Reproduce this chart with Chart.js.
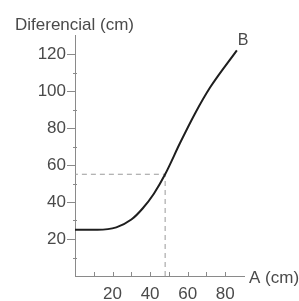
<!DOCTYPE html>
<html><head><meta charset="utf-8">
<script src="https://cdn.jsdelivr.net/npm/chart.js@4/dist/chart.umd.min.js"></script>
<style>html,body{margin:0;padding:0;background:#fff}#wrap{width:299px;height:301px;position:relative}</style>
</head><body><div id="wrap"><canvas id="c" width="299" height="301"></canvas></div>
<script>
const curveA = [0, 12, 22, 30, 36, 42, 48, 56, 64, 72, 86.2];
const curveDif = [25, 25, 26.3, 30.5, 36.5, 44.5, 55, 72, 88, 102, 122];
const markA = 48;
const markDif = 55;
const yTickLabels = [20, 40, 60, 80, 100, 120];
const xTickLabels = [20, 40, 60, 80];
const yTitle = 'Diferencial (cm)';
const xTitle = 'A (cm)';
const endLabel = 'B';

const TXT = '#4a4a4a';
const AX = '#8a8a8a';
const narrow = "'Liberation Sans Narrow','Arial Narrow','Liberation Sans',Arial,sans-serif";
const regular = "'Liberation Sans',Arial,sans-serif";

const deco = {
  id: 'deco',
  afterDatasetsDraw(chart) {
    const ctx = chart.ctx;
    const xs = chart.scales.x, ys = chart.scales.y;
    const x0 = xs.getPixelForValue(0), y0 = ys.getPixelForValue(0);
    ctx.save();
    ctx.strokeStyle = AX; ctx.lineWidth = 1;
    ys.ticks.forEach(t => {
      const v = t.value;
      if (v <= 0 || v % 10 !== 0 || v > 120) return;
      const py = Math.round(ys.getPixelForValue(v)) + 0.5;
      ctx.beginPath();
      if (v % 20 === 0) { ctx.moveTo(x0 - 8, py); ctx.lineTo(x0, py); }
      else { ctx.moveTo(x0 - 2, py); ctx.lineTo(x0 + 2, py); }
      ctx.stroke();
    });
    xs.ticks.forEach(t => {
      const v = t.value;
      if (v <= 0 || v % 10 !== 0 || v > 80) return;
      const px = Math.round(xs.getPixelForValue(v)) + 0.5;
      ctx.beginPath(); ctx.moveTo(px, y0 - 4); ctx.lineTo(px, y0 + 1); ctx.stroke();
    });
    ctx.fillStyle = TXT;
    ctx.font = '17px ' + regular;
    ctx.textBaseline = 'alphabetic';
    ctx.textAlign = 'left';
    ctx.fillText(yTitle, 15, 30);
    ctx.fillText(xTitle, xs.right + 5, 283);
    const meta = chart.getDatasetMeta(0);
    const last = meta.data[meta.data.length - 1];
    ctx.font = '16px ' + regular;
    ctx.fillText(endLabel, last.x + 1, last.y - 5);
    ctx.restore();
  }
};

new Chart(document.getElementById('c'), {
  type: 'scatter',
  data: {
    datasets: [
      {
        data: curveA.map((a, i) => ({ x: a, y: curveDif[i] })),
        showLine: true, cubicInterpolationMode: 'monotone',
        borderColor: '#1e1e1e', borderWidth: 2, pointRadius: 0
      },
      {
        data: [{ x: markA, y: 0 }, { x: markA, y: markDif }, { x: 0, y: markDif }],
        showLine: true, tension: 0, borderColor: '#9a9a9a', borderWidth: 1, borderDash: [5, 4], pointRadius: 0
      }
    ]
  },
  options: {
    responsive: false, animation: false,
    layout: { padding: { top: 35.5, right: 55, left: 0, bottom: 0 } },
    plugins: { legend: { display: false }, tooltip: { enabled: false } },
    scales: {
      x: {
        type: 'linear', min: 0, max: 90,
        grid: { display: false, drawTicks: false },
        border: { display: true, color: AX, width: 1 },
        ticks: {
          stepSize: 10, autoSkip: false, maxRotation: 0, padding: 8,
          color: TXT, font: { family: narrow, size: 17 },
          callback: v => xTickLabels.includes(v) ? String(v) : ''
        },
        afterFit: s => { s.height = 25; }
      },
      y: {
        type: 'linear', min: 0, max: 130,
        grid: { display: false, drawTicks: false },
        border: { display: true, color: AX, width: 1 },
        ticks: {
          stepSize: 10, autoSkip: false, padding: 9,
          color: TXT, font: { family: narrow, size: 17 },
          callback: v => yTickLabels.includes(v) ? String(v) : ''
        },
        afterFit: s => { s.width = 75; }
      }
    }
  },
  plugins: [deco]
});
</script></body></html>
